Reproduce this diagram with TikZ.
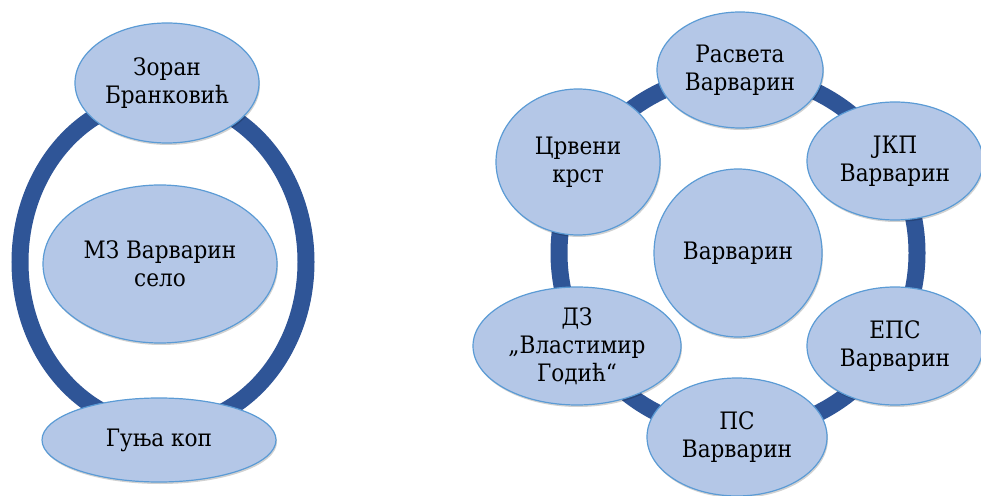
\documentclass[tikz,border=0pt]{standalone}
\usepackage{fontspec}
\setmainfont{DejaVu Serif Condensed}
\usetikzlibrary{shapes,shadows}

\definecolor{bubblefill}{HTML}{B4C7E7}
\definecolor{bubbleline}{HTML}{5B9BD5}
\definecolor{ringblue}{HTML}{2F5597}

\tikzset{
	bubble/.style={ellipse, inner sep=0pt, fill=bubblefill, draw=bubbleline, line width=1.2pt, align=center,
		font=\fontsize{24}{28}\selectfont,
		drop shadow={shadow xshift=1pt, shadow yshift=-2pt, opacity=0.18, fill=black}},
	ring/.style={draw=ringblue, line width=17pt}
}

\begin{document}
\begin{tikzpicture}[x=1pt,y=1pt]
				\useasboundingbox (0,0) rectangle (981,495);
				
				% left group
				\draw[ring] (163,233) ellipse [x radius=143, y radius=165];
				
				\node[bubble, minimum width=184, minimum height=120] (zoran) at (167,412) {Зоран\\Бранковић};
				\node[bubble, minimum width=234, minimum height=158] (mz) at (160,231) {МЗ Варварин\\село};
				\node[bubble, minimum width=234, minimum height=84] (gunja) at (159,55) {Гуња коп};
				
				% right group
				\coordinate (c) at (738,242);
				\draw[ring] (c) circle [radius=179];
				
				\node[bubble, minimum width=168, minimum height=168] (varvarin) at (c) {Варварин};
				\node[bubble, minimum width=166, minimum height=116] (rasveta) at (740,425) {Расвета\\Варварин};
				\node[bubble, minimum width=176, minimum height=118] (jkp) at (895,334) {ЈКП\\Варварин};
				\node[bubble, minimum width=176, minimum height=118] (eps) at (895,149) {ЕПС\\Варварин};
				\node[bubble, minimum width=180, minimum height=118] (ps) at (737,58) {ПС\\Варварин};
				\node[bubble, minimum width=208, minimum height=118] (dz) at (577,149) {ДЗ\\„Властимир\\Годић“};
				\node[bubble, minimum width=164, minimum height=146] (krst) at (578,333) {Црвени\\крст};
			\end{tikzpicture}
\end{document}
